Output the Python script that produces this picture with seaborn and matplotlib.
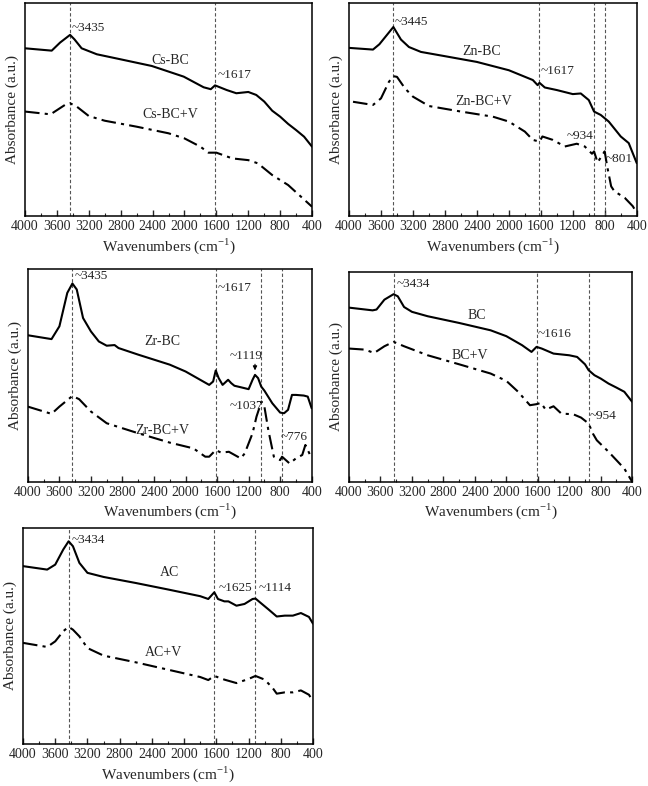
import matplotlib
matplotlib.use("Agg")
import matplotlib.pyplot as plt
import seaborn as sns
from matplotlib.ticker import MultipleLocator

# ---- data (absorbance in arbitrary units) ----
cs_bc_wn = [4000, 3665, 3560, 3435, 3380, 3290, 3100, 2810, 2410, 2010, 1760, 1670, 1617, 1470, 1350, 1200, 1100, 1000, 900, 800, 700, 600, 500, 400]
cs_bc_abs = [0.788, 0.777, 0.815, 0.851, 0.830, 0.788, 0.760, 0.737, 0.705, 0.655, 0.605, 0.596, 0.614, 0.592, 0.577, 0.583, 0.569, 0.538, 0.495, 0.467, 0.433, 0.404, 0.373, 0.326]
cs_bcv_wn = [4000, 3680, 3500, 3435, 3350, 3200, 3000, 2600, 2200, 2000, 1800, 1700, 1600, 1400, 1200, 1080, 900, 700, 400]
cs_bcv_abs = [0.491, 0.478, 0.522, 0.530, 0.514, 0.470, 0.448, 0.420, 0.389, 0.365, 0.326, 0.298, 0.298, 0.271, 0.263, 0.248, 0.193, 0.146, 0.044]
cs_peaks = [3435, 1617]

zn_bc_wn = [4000, 3700, 3620, 3445, 3350, 3250, 3100, 2800, 2400, 2000, 1700, 1640, 1617, 1550, 1400, 1200, 1100, 1000, 934, 850, 750, 600, 500, 400]
zn_bc_abs = [0.790, 0.782, 0.807, 0.888, 0.829, 0.794, 0.771, 0.751, 0.724, 0.685, 0.639, 0.615, 0.626, 0.604, 0.592, 0.573, 0.576, 0.545, 0.491, 0.475, 0.444, 0.374, 0.343, 0.249]
zn_bcv_wn = [3950, 3700, 3600, 3500, 3445, 3400, 3300, 3200, 3000, 2600, 2200, 2000, 1800, 1700, 1617, 1580, 1450, 1300, 1150, 1050, 960, 934, 890, 801, 770, 720, 680, 550, 450, 400]
zn_bcv_abs = [0.537, 0.522, 0.553, 0.631, 0.657, 0.654, 0.600, 0.561, 0.517, 0.491, 0.467, 0.444, 0.397, 0.358, 0.350, 0.374, 0.358, 0.327, 0.340, 0.327, 0.293, 0.304, 0.252, 0.304, 0.234, 0.140, 0.117, 0.086, 0.047, 0.016]
zn_peaks = [3445, 1617, 934, 801]

zr_bc_wn = [4000, 3700, 3600, 3500, 3435, 3380, 3300, 3200, 3100, 3000, 2900, 2850, 2600, 2200, 2000, 1800, 1700, 1650, 1617, 1580, 1530, 1460, 1420, 1380, 1300, 1200, 1150, 1119, 1080, 1040, 1000, 900, 800, 750, 700, 650, 600, 500, 450, 400]
zr_bc_abs = [0.688, 0.670, 0.730, 0.887, 0.931, 0.903, 0.769, 0.706, 0.659, 0.639, 0.642, 0.628, 0.597, 0.550, 0.518, 0.476, 0.455, 0.471, 0.523, 0.487, 0.455, 0.479, 0.463, 0.451, 0.444, 0.435, 0.479, 0.502, 0.487, 0.447, 0.428, 0.369, 0.325, 0.322, 0.338, 0.408, 0.408, 0.405, 0.400, 0.345]
zr_bcv_wn = [4000, 3700, 3600, 3435, 3350, 3200, 3000, 2600, 2200, 1900, 1750, 1700, 1617, 1550, 1450, 1300, 1250, 1150, 1100, 1037, 1000, 950, 880, 800, 776, 680, 600, 520, 480, 400]
zr_bcv_abs = [0.353, 0.319, 0.353, 0.403, 0.388, 0.330, 0.275, 0.228, 0.184, 0.157, 0.118, 0.118, 0.149, 0.137, 0.141, 0.110, 0.133, 0.228, 0.306, 0.377, 0.353, 0.243, 0.118, 0.102, 0.118, 0.086, 0.110, 0.126, 0.173, 0.110]
zr_peaks = [3435, 1617, 1037, 776]

bc_wn = [4000, 3700, 3650, 3550, 3434, 3380, 3300, 3200, 3000, 2600, 2200, 2000, 1800, 1680, 1616, 1550, 1400, 1200, 1100, 1000, 954, 880, 800, 700, 600, 500, 400]
bc_abs = [0.830, 0.817, 0.821, 0.868, 0.894, 0.884, 0.833, 0.810, 0.789, 0.757, 0.722, 0.694, 0.651, 0.619, 0.643, 0.635, 0.611, 0.603, 0.595, 0.560, 0.532, 0.508, 0.492, 0.468, 0.449, 0.429, 0.381]
bcv_wn = [4000, 3800, 3680, 3550, 3434, 3300, 3000, 2600, 2200, 2000, 1850, 1700, 1616, 1560, 1500, 1400, 1300, 1150, 1050, 954, 900, 850, 700, 600, 500, 400]
bcv_abs = [0.635, 0.630, 0.614, 0.646, 0.667, 0.646, 0.603, 0.560, 0.516, 0.481, 0.429, 0.365, 0.370, 0.376, 0.344, 0.360, 0.325, 0.322, 0.306, 0.278, 0.230, 0.198, 0.143, 0.103, 0.063, 0.000]
bc_peaks = [3434, 1616, 954]

ac_wn = [4000, 3700, 3600, 3500, 3434, 3380, 3300, 3200, 3000, 2600, 2200, 1800, 1700, 1625, 1580, 1500, 1450, 1350, 1250, 1150, 1114, 1050, 950, 850, 750, 650, 550, 450, 400]
ac_abs = [0.823, 0.807, 0.830, 0.900, 0.938, 0.915, 0.838, 0.792, 0.773, 0.745, 0.715, 0.684, 0.671, 0.702, 0.671, 0.660, 0.660, 0.640, 0.648, 0.671, 0.673, 0.653, 0.622, 0.590, 0.594, 0.594, 0.606, 0.588, 0.557]
acv_wn = [4000, 3700, 3600, 3500, 3434, 3380, 3300, 3200, 3000, 2600, 2200, 1800, 1700, 1625, 1500, 1350, 1200, 1114, 1000, 900, 850, 750, 650, 550, 450, 400]
acv_abs = [0.468, 0.449, 0.475, 0.522, 0.542, 0.529, 0.498, 0.444, 0.409, 0.378, 0.344, 0.310, 0.296, 0.315, 0.298, 0.282, 0.301, 0.315, 0.298, 0.259, 0.233, 0.239, 0.239, 0.248, 0.228, 0.198]
ac_peaks = [3434, 1625, 1114]

sns.set_style("ticks")
plt.rcParams['font.family'] = ['Liberation Serif', 'DejaVu Serif']
plt.rcParams['mathtext.fontset'] = 'custom'
plt.rcParams['mathtext.rm'] = 'Liberation Serif'

fig = plt.figure(figsize=(6.48, 7.86), dpi=100)


def draw_panel(rect, wn1, a1, wn2, a2, peaks):
    ax = fig.add_axes(rect)
    for p in peaks:
        ax.axvline(p, color='#555555', lw=0.8, ls=(0, (3, 2)), zorder=1)
    sns.lineplot(x=wn1, y=a1, ax=ax, color='black', lw=1.5, sort=False, estimator=None,
                 solid_joinstyle='round')
    sns.lineplot(x=wn2, y=a2, ax=ax, color='black', lw=1.5, sort=False, estimator=None,
                 linestyle=(0, (7, 2.5, 1.5, 2.5)), dash_joinstyle='round')
    ax.set_xlim(4000, 400)
    ax.set_ylim(0, 1)
    ax.set_yticks([])
    ax.xaxis.set_major_locator(MultipleLocator(400))
    ax.xaxis.set_minor_locator(MultipleLocator(200))
    ax.tick_params(axis='x', which='major', direction='in', length=4, width=1, labelsize=10, pad=3)
    ax.tick_params(axis='x', which='minor', direction='in', length=2, width=0.8)
    for s in ax.spines.values():
        s.set_linewidth(1.1)
        s.set_color('black')
    ax.set_xlabel('Wavenumbers (cm$^{\\mathregular{-1}}$)', fontsize=11, labelpad=2)
    ax.set_ylabel('Absorbance (a.u.)', fontsize=11, labelpad=4)
    return ax


fs = 9.5
fl = 10

ax1 = draw_panel([0.0386, 0.725, 0.443, 0.271], cs_bc_wn, cs_bc_abs, cs_bcv_wn, cs_bcv_abs, cs_peaks)
ax1.text(3420, 0.885, '~3435', fontsize=fs, ha='left', va='center')
ax1.text(2180, 0.73, 'Cs-BC', fontsize=fl, ha='center', va='center')
ax1.text(1580, 0.665, '~1617', fontsize=fs, ha='left', va='center')
ax1.text(2180, 0.475, 'Cs-BC+V', fontsize=fl, ha='center', va='center')

ax2 = draw_panel([0.5386, 0.725, 0.444, 0.271], zn_bc_wn, zn_bc_abs, zn_bcv_wn, zn_bcv_abs, zn_peaks)
ax2.text(3430, 0.91, '~3445', fontsize=fs, ha='left', va='center')
ax2.text(2340, 0.775, 'Zn-BC', fontsize=fl, ha='center', va='center')
ax2.text(1600, 0.68, '~1617', fontsize=fs, ha='left', va='center')
ax2.text(2320, 0.54, 'Zn-BC+V', fontsize=fl, ha='center', va='center')
ax2.text(1110, 0.378, '~934', fontsize=fs, ha='center', va='center')
ax2.text(790, 0.27, '~801', fontsize=fs, ha='left', va='center')

ax3 = draw_panel([0.043, 0.387, 0.438, 0.271], zr_bc_wn, zr_bc_abs, zr_bcv_wn, zr_bcv_abs, zr_peaks)
ax3.text(3410, 0.965, '~3435', fontsize=fs, ha='left', va='center')
ax3.text(1590, 0.91, '~1617', fontsize=fs, ha='left', va='center')
ax3.text(2290, 0.66, 'Zr-BC', fontsize=fl, ha='center', va='center')
ax3.text(1230, 0.59, '~1119', fontsize=fs, ha='center', va='center')
ax3.annotate('', xy=(1119, 0.51), xytext=(1119, 0.565),
             arrowprops=dict(arrowstyle='-|>', color='black', lw=0.8, mutation_scale=6))
ax3.text(1010, 0.355, '~1037', fontsize=fs, ha='right', va='center')
ax3.text(2290, 0.24, 'Zr-BC+V', fontsize=fl, ha='center', va='center')
ax3.text(620, 0.21, '~776', fontsize=fs, ha='center', va='center')

ax4 = draw_panel([0.5386, 0.387, 0.437, 0.267], bc_wn, bc_abs, bcv_wn, bcv_abs, bc_peaks)
ax4.text(3400, 0.944, '~3434', fontsize=fs, ha='left', va='center')
ax4.text(2380, 0.794, 'BC', fontsize=fl, ha='center', va='center')
ax4.text(1600, 0.703, '~1616', fontsize=fs, ha='left', va='center')
ax4.text(2465, 0.6, 'BC+V', fontsize=fl, ha='center', va='center')
ax4.text(945, 0.313, '~954', fontsize=fs, ha='left', va='center')

ax5 = draw_panel([0.0355, 0.0534, 0.4475, 0.275], ac_wn, ac_abs, acv_wn, acv_abs, ac_peaks)
ax5.text(3400, 0.946, '~3434', fontsize=fs, ha='left', va='center')
ax5.text(2180, 0.792, 'AC', fontsize=fl, ha='center', va='center')
ax5.text(1570, 0.722, '~1625', fontsize=fs, ha='left', va='center')
ax5.text(1080, 0.722, '~1114', fontsize=fs, ha='left', va='center')
ax5.text(2260, 0.425, 'AC+V', fontsize=fl, ha='center', va='center')

fig.savefig('out.png', dpi=100)
